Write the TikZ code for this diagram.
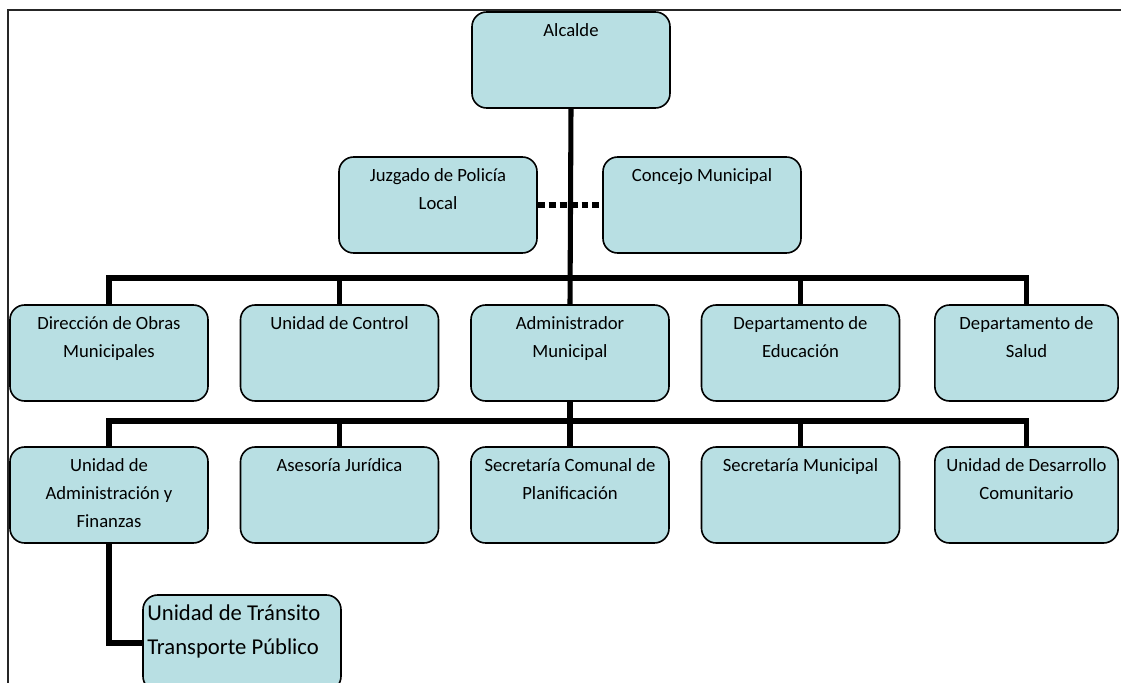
\documentclass[tikz,border=0pt]{standalone}
\usepackage{fontspec}
\setmainfont{Carlito}
\definecolor{cajafondo}{RGB}{184,223,227}
\newcommand{\Texto}[1]{\parbox[t]{145pt}{\centering #1}}

\begin{document}
\begin{tikzpicture}[x = 0.75pt, y = -0.75pt]
\tikzstyle{CajaStyle}=[draw, line width = 1.2pt,
                       fill = cajafondo,
                       rounded corners = 11pt,
                       minimum width = 148.5pt,
                       minimum height = 72pt,
                       inner sep = 0pt]
\tikzstyle{LineaStyle}=[line width = 3.8pt, line join = miter]
\tikzstyle{PuntosStyle}=[line width = 3.8pt, dash pattern = on 5.2pt off 3pt]
\tikzstyle{TextoStyle}=[anchor = base, inner sep = 0pt,
                        font = \fontsize{14}{21}\selectfont]
\tikzstyle{GrandeStyle}=[anchor = base, inner sep = 0pt,
                         font = \fontsize{17}{25}\selectfont]
\useasboundingbox (0,0) rectangle (1121,682);
\clip (0,0) rectangle (1121,682);
\draw[line width = 1.5pt, black!85] (8,10) rectangle (1200,760);
% cajas
\node[CajaStyle] (alc) at (571,60) {};
\node[CajaStyle] (juz) at (438,205) {};
\node[CajaStyle] (con) at (702,205) {};
\node[CajaStyle] (dir) at (109,353) {};
\node[CajaStyle] (ctl) at (339.5,353) {};
\node[CajaStyle] (adm) at (570,353) {};
\node[CajaStyle] (edu) at (800.5,353) {};
\node[CajaStyle, minimum width = 137.5pt] (sal) at (1026.5,353) {};
\node[CajaStyle] (uaf) at (109,495) {};
\node[CajaStyle] (ase) at (339.5,495) {};
\node[CajaStyle] (scp) at (570,495) {};
\node[CajaStyle] (smu) at (800.5,495) {};
\node[CajaStyle, minimum width = 137.5pt] (udc) at (1026.5,495) {};
\node[CajaStyle] (tra) at (242,643) {};
% lineas
\coordinate (b1) at (570,278);
\coordinate (b2) at (570,421);
\draw[LineaStyle] (alc.south) -- (adm.north);
\draw[LineaStyle] (dir.north) |- (b1) -| (sal.north);
\draw[LineaStyle] (ctl.north) -- (ctl.north |- b1);
\draw[LineaStyle] (edu.north) -- (edu.north |- b1);
\draw[LineaStyle] (adm.south) -- (scp.north);
\draw[LineaStyle] (uaf.north) |- (b2) -| (udc.north);
\draw[LineaStyle] (ase.north) -- (ase.north |- b2);
\draw[LineaStyle] (smu.north) -- (smu.north |- b2);
\draw[LineaStyle] (uaf.south) |- (tra.west);
\draw[PuntosStyle] (juz.east) -- (con.west);
% textos
\node[TextoStyle] at ([yshift = -19pt]alc.north) {\Texto{Alcalde}};
\node[TextoStyle] at ([yshift = -19pt]juz.north) {\Texto{Juzgado de Policía\\Local}};
\node[TextoStyle] at ([yshift = -19pt]con.north) {\Texto{Concejo Municipal}};
\node[TextoStyle] at ([yshift = -19pt]dir.north) {\Texto{Dirección de Obras\\Municipales}};
\node[TextoStyle] at ([yshift = -19pt]ctl.north) {\Texto{Unidad de Control}};
\node[TextoStyle] at ([yshift = -19pt]adm.north) {\Texto{Administrador\\Municipal}};
\node[TextoStyle] at ([yshift = -19pt]edu.north) {\Texto{Departamento de\\Educación}};
\node[TextoStyle] at ([yshift = -19pt]sal.north) {\Texto{Departamento de\\Salud}};
\node[TextoStyle] at ([yshift = -19pt]uaf.north) {\Texto{Unidad de\\Administración y\\Finanzas}};
\node[TextoStyle] at ([yshift = -19pt]ase.north) {\Texto{Asesoría Jurídica}};
\node[TextoStyle] at ([yshift = -19pt]scp.north) {\Texto{Secretaría Comunal de\\Planificación}};
\node[TextoStyle] at ([yshift = -19pt]smu.north) {\Texto{Secretaría Municipal}};
\node[TextoStyle] at ([yshift = -19pt]udc.north) {\Texto{Unidad de Desarrollo\\Comunitario}};
\node[GrandeStyle] at ([yshift = -20pt]tra.north) {\parbox[t]{148pt}{\raggedright\hspace*{3pt}Unidad de Tránsito\\\hspace*{3pt}Transporte Público}};
\end{tikzpicture}
\end{document}
